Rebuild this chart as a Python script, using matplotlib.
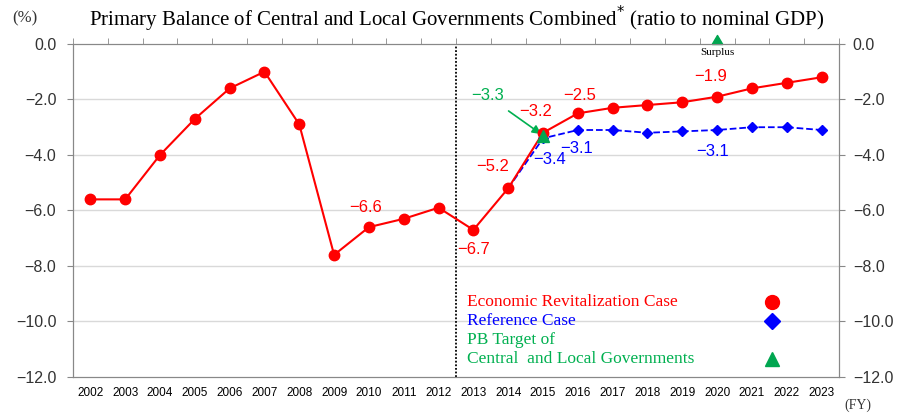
import matplotlib
matplotlib.use("Agg")
import matplotlib.pyplot as plt
import numpy as np

# data
years = list(range(2002, 2024))
econ = [-5.6, -5.6, -4.0, -2.7, -1.6, -1.0, -2.9, -7.6, -6.6, -6.3, -5.9,
        -6.7, -5.2, -3.2, -2.5, -2.3, -2.2, -2.1, -1.9, -1.6, -1.4, -1.2]
ref_years = list(range(2014, 2024))
ref = [-5.2, -3.4, -3.1, -3.1, -3.2, -3.15, -3.1, -3.0, -3.0, -3.1]
target_years = [2015, 2020]
target = [-3.3, 0.0]

red = "#ff0000"
blue = "#0000ff"
green = "#00b050"
tri_green = "#00a650"
serif = "Liberation Serif"
sans = "Liberation Sans"
# triangle with its base on the data point
tri_up = [(-1, 0), (1, 0), (0, 1.7), (-1, 0)]

fig = plt.figure(figsize=(9.03, 4.16), dpi=100)
ax = fig.add_axes([0.0808, 0.0938, 0.8483, 0.8005])

ax.set_xlim(2001.5, 2023.5)
ax.set_ylim(-12, 0)

# grid
for v in np.arange(-10, 0, 2):
    ax.axhline(v, color="#d9d9d9", lw=1, zorder=0)

# split between actual and projection
ax.axvline(2012.5, color="black", ls=(0, (1, 1)), lw=1.3, zorder=1)

ax.plot(ref_years, ref, color=blue, ls="--", lw=1.3, marker="D", ms=5, zorder=3)
ax.plot(years, econ, color=red, lw=1.5, marker="o", ms=7.5, zorder=4)
ax.plot(target_years[:1], target[:1], ls="none", marker="^", ms=9,
        color=tri_green, zorder=5)
ax.plot(target_years[1:], target[1:], ls="none", marker=tri_up, ms=13,
        color=tri_green, zorder=5, clip_on=False)

# value labels
lab = dict(fontsize=12, fontfamily=sans, ha="center", va="center")
ax.text(2009.9, -5.9, "\u22126.6", color=red, **lab)
ax.text(2013.0, -7.4, "\u22126.7", color=red, **lab)
ax.text(2013.55, -4.43, "\u22125.2", color=red, **lab)
ax.text(2014.8, -2.45, "\u22123.2", color=red, **lab)
ax.text(2016.05, -1.84, "\u22122.5", color=red, **lab)
ax.text(2019.8, -1.19, "\u22121.9", color=red, **lab)
ax.text(2015.2, -4.18, "\u22123.4", color=blue, **lab)
ax.text(2015.97, -3.78, "\u22123.1", color=blue, **lab)
ax.text(2019.87, -3.86, "\u22123.1", color=blue, **lab)
ax.annotate("\u22123.3", xy=(2014.95, -3.25), xytext=(2013.4, -1.87),
            color=green, fontsize=12, fontfamily=sans, ha="center", va="center",
            arrowprops=dict(arrowstyle="-|>", color=green, lw=1.2,
                            shrinkA=6, shrinkB=0, mutation_scale=13))
ax.text(2020, -0.3, "Surplus", fontsize=8, fontfamily=serif, ha="center",
        va="center")

# legend drawn by hand
leg = dict(fontsize=12.5, fontfamily=serif, transform=ax.transAxes,
           ha="left", va="center")
ax.text(0.514, 0.225, "Economic Revitalization Case", color=red, **leg)
ax.text(0.514, 0.168, "Reference Case", color=blue, **leg)
ax.text(0.514, 0.111, "PB Target of", color=green, **leg)
ax.text(0.514, 0.054, "Central  and Local Governments", color=green, **leg)
ax.plot([0.9125], [0.225], marker="o", ms=10, color=red, transform=ax.transAxes)
ax.plot([0.9125], [0.168], marker="D", ms=8, color=blue, transform=ax.transAxes)
ax.plot([0.9125], [0.054], marker="^", ms=10, color=tri_green,
        transform=ax.transAxes)

# axes styling
for s in ax.spines.values():
    s.set_color("#888888")
ax.set_xticks(years)
ax.set_xticklabels([str(y) for y in years], fontsize=8.5, fontfamily=sans)
ax.tick_params(axis="x", length=0, pad=7)
ax.set_xticks(np.arange(2001.5, 2024, 1), minor=True)
ax.tick_params(axis="x", which="minor", top=True, bottom=False, length=4,
               direction="out", color="#888888")

yt = np.arange(-12, 0.1, 2)
ylabels = ["%.1f" % v if v == 0 else "\u2212%.1f" % -v for v in yt]
ax.set_yticks(yt)
ax.set_yticklabels(ylabels, fontsize=11.5, fontfamily=sans, color="#333333")
ax.tick_params(axis="y", length=4, color="#888888", pad=8)

ax2 = ax.twinx()
ax2.set_ylim(-12, 0)
ax2.set_yticks(yt)
ax2.set_yticklabels(ylabels, fontsize=11.5, fontfamily=sans, color="#333333")
ax2.tick_params(axis="y", length=4, color="#888888", pad=6)
for s in ax2.spines.values():
    s.set_color("#888888")

fig.text(0.506, 0.955, "Primary Balance of Central and Local Governments Combined$^{*}$ (ratio to nominal GDP)",
         fontsize=15, fontfamily=serif, ha="center", va="center")
fig.text(0.014, 0.955, "(%)", fontsize=12, fontfamily=serif, ha="left",
         va="center", color="#333333")
fig.text(0.95, 0.027, "(FY)", fontsize=10, fontfamily=serif, ha="center",
         va="center", color="#333333")

fig.savefig("out.png", dpi=100, facecolor="w")
